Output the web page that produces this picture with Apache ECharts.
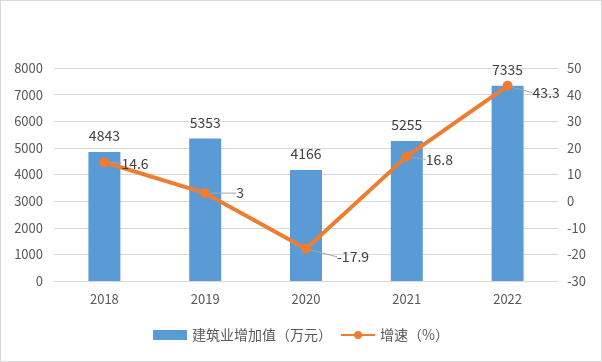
<!DOCTYPE html>
<html><head><meta charset="utf-8">
<script src="https://cdn.jsdelivr.net/npm/echarts@6/dist/echarts.min.js"></script>
<style>html,body{margin:0;padding:0;background:#fff}#c{width:602px;height:362px;box-sizing:border-box;border:1px solid #d9d9d9}</style>
</head><body><div id="c"></div>
<script>
const categories = ['2018','2019','2020','2021','2022'];
const addedValue = [4843,5353,4166,5255,7335];
const growth = [14.6,3,-17.9,16.8,43.3];
const leftTicks = [0,8000,1000];
const rightTicks = [-30,50,10];
const labelShift = [[4,1],[18,0],[18,8],[6,3],[12,7]];

const chart = echarts.init(document.getElementById('c'));
const font = '"Noto Sans CJK SC", "Noto Sans", sans-serif';
chart.setOption({
  animation:false,
  textStyle:{fontFamily:font},
  grid:{left:53,right:43,top:67,bottom:80},
  legend:{bottom:14,left:'center',itemGap:8,textStyle:{color:'#595959',fontSize:14,fontFamily:font},
    data:[{name:'建筑业增加值（万元）',icon:'rect',itemStyle:{color:'#5B9BD5'}},{name:'增速（%）'}],
    itemWidth:34,itemHeight:10},
  xAxis:{type:'category',data:categories,axisLine:{lineStyle:{color:'#d9d9d9'}},axisTick:{show:false},
    axisLabel:{color:'#595959',fontSize:13,margin:12,fontFamily:font}},
  yAxis:[
    {type:'value',min:leftTicks[0],max:leftTicks[1],interval:leftTicks[2],
     axisLine:{show:false},axisTick:{show:false},splitLine:{lineStyle:{color:'#d9d9d9'}},
     axisLabel:{color:'#595959',fontSize:13,margin:11,fontFamily:font,formatter:v=>String(v)}},
    {type:'value',min:rightTicks[0],max:rightTicks[1],interval:rightTicks[2],
     axisLine:{show:false},axisTick:{show:false},splitLine:{show:false},
     axisLabel:{color:'#595959',fontSize:13,margin:9,fontFamily:font}}
  ],
  series:[
    {name:'建筑业增加值（万元）',type:'bar',data:addedValue,barWidth:32,itemStyle:{color:'#5B9BD5'},
     label:{show:true,position:'top',distance:9,color:'#404040',fontSize:14,fontFamily:font}},
    {name:'增速（%）',type:'line',yAxisIndex:1,data:growth,
     lineStyle:{color:'#ED7D31',width:4},itemStyle:{color:'#ED7D31'},symbol:'circle',symbolSize:10,
     label:{show:true,position:'right',distance:8,color:'#404040',fontSize:14,fontFamily:font},
     labelLine:{show:true,lineStyle:{color:'#a6a6a6',width:1}},
     labelLayout:function(p){const s=labelShift[p.dataIndex];return {dx:s[0],dy:s[1]};}
    }
  ]
});
</script></body></html>
